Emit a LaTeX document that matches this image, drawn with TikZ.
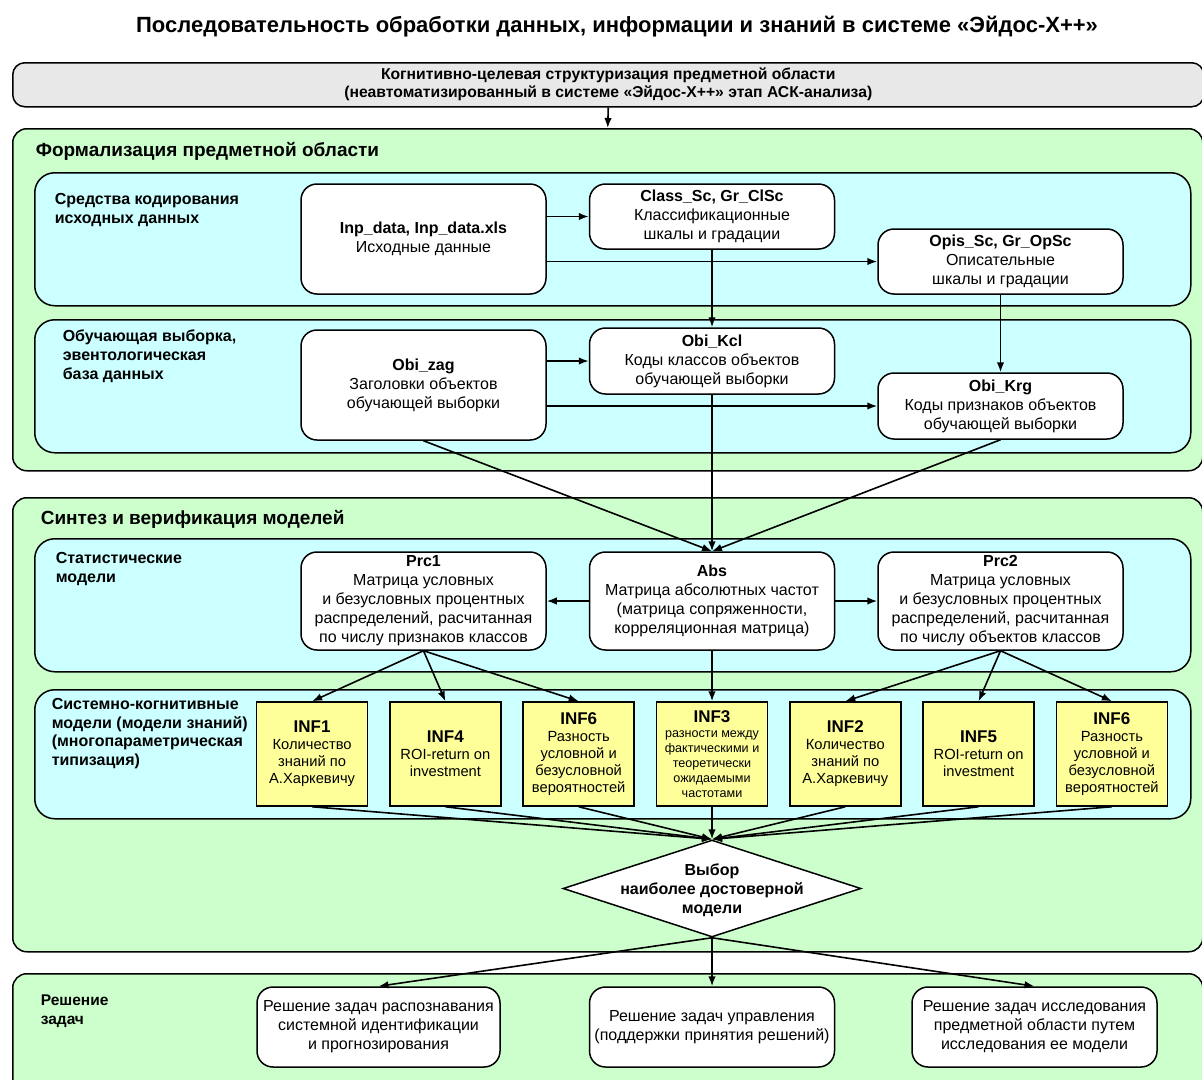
\documentclass[tikz,border=0pt]{standalone}
\usepackage{fontspec}
\setmainfont{Liberation Sans}
\usepackage{tikz}
\usetikzlibrary{arrows.meta}
\usetikzlibrary{shapes.geometric}
\definecolor{grn}{RGB}{204,255,204}
\definecolor{cyn}{RGB}{204,255,255}
\definecolor{yel}{RGB}{255,255,153}
\definecolor{gry}{RGB}{232,232,232}
\newcommand{\txt}{\fontsize{16}{19}\selectfont}
\newcommand{\inftxt}{\fontsize{14.7}{17}\selectfont}
\newcommand{\inftitle}[1]{{\bfseries\fontsize{17}{19}\selectfont #1}}
\tikzstyle{area} = [draw,line width=1.5pt,fill=grn,rounded corners=14pt,anchor=north west,inner sep=0pt,minimum width=1190pt]
\tikzstyle{sub} = [draw,line width=1.5pt,fill=cyn,rounded corners=20pt,anchor=north west,inner sep=0pt,minimum width=1156pt]
\tikzstyle{block} = [draw,line width=1.5pt,fill=white,rounded corners=16pt,minimum width=245pt,align=center,inner sep=3pt,font=\txt]
\tikzstyle{inf} = [draw,line width=1.5pt,fill=yel,minimum width=111pt,minimum height=104pt,align=center,inner sep=2pt,font=\inftxt]
\tikzstyle{sel} = [diamond,draw,line width=1.5pt,fill=white,minimum width=298pt,minimum height=97pt,inner sep=0pt]
\tikzstyle{lbl} = [anchor=west,align=left,inner sep=0pt,font=\bfseries\txt]
\tikzstyle{head} = [anchor=west,inner sep=0pt,font=\bfseries\fontsize{19}{22}\selectfont]

\begin{document}
\begin{tikzpicture}[>={Latex[length=10pt,width=7.5pt]},x=1pt,y=-1pt,line width=1.6pt]

    \useasboundingbox (0,0) rectangle (1202,1079);

% Title and the manual stage

    \node[font=\bfseries\fontsize{22}{26}\selectfont] at (617,27) (title) {Последовательность обработки данных, информации и знаний в системе «Эйдос-X++»};
    \node[area,fill=gry,rounded corners=12pt,minimum width=1191pt,minimum height=44pt,align=center,font=\bfseries\fontsize{15.7}{18}\selectfont] at (12,62) (kcs) {Когнитивно-целевая структуризация предметной области\\(неавтоматизированный в системе «Эйдос-X++» этап АСК-анализа)};

% Panels

    \node[area,minimum height=342pt] at (12,128) (formal) {};
    \node[sub,minimum height=133pt] at (34,172) (coding) {};
    \node[sub,minimum height=133pt] at (34,319) (train) {};
    \node[area,minimum height=454pt] at (12,497) (synth) {};
    \node[sub,minimum height=133pt] at (34,538) (stat) {};
    \node[sub,minimum height=129pt] at (34,689) (scm) {};
    \node[area,minimum height=130pt] at (12,973) (solve) {};

    \node[head] at (35,151) (hformal) {Формализация предметной области};
    \node[lbl] at (54,210) (lcoding) {Средства кодирования\\исходных данных};
    \node[lbl] at (62,356.5) (ltrain) {Обучающая выборка,\\эвентологическая\\база данных};
    \node[head] at (40,519) (hsynth) {Синтез и верификация моделей};
    \node[lbl] at (55,569) (lstat) {Статистические\\модели};
    \node[lbl,font=\bfseries\fontsize{16}{18.7}\selectfont] at (51,733.5) (lscm) {Системно-когнитивные\\модели (модели знаний)\\(многопараметрическая\\типизация)};
    \node[lbl,font=\bfseries\fontsize{15.5}{19}\selectfont] at (40,1011) (lsolve) {Решение\\задач};

% Draw blocks

    \node[block,minimum height=110pt] at (423.5,239) (inp) {\textbf{Inp\_data, Inp\_data.xls}\\Исходные данные};
    \node[block,minimum height=65pt] at (712,216.5) (class) {\textbf{Class\_Sc, Gr\_ClSc}\\Классификационные\\шкалы и градации};
    \node[block,minimum height=65pt] at (1000.5,261.5) (opis) {\textbf{Opis\_Sc, Gr\_OpSc}\\Описательные\\шкалы и градации};
    \node[block,minimum height=110pt] at (423.5,385) (zag) {\textbf{Obi\_zag}\\Заголовки объектов\\обучающей выборки};
    \node[block,minimum height=66pt] at (712,361) (kcl) {\textbf{Obi\_Kcl}\\Коды классов объектов\\обучающей выборки};
    \node[block,minimum height=66pt] at (1000.5,406) (krg) {\textbf{Obi\_Krg}\\Коды признаков объектов\\обучающей выборки};

    \node[block,minimum height=98pt] at (423.5,601) (prc1) {\textbf{Prc1}\\Матрица условных\\и безусловных процентных\\распределений, расчитанная\\по числу признаков классов};
    \node[block,minimum height=98pt] at (712,601) (abs) {\textbf{Abs}\\Матрица абсолютных частот\\(матрица сопряженности,\\корреляционная матрица)};
    \node[block,minimum height=98pt] at (1000.5,601) (prc2) {\textbf{Prc2}\\Матрица условных\\и безусловных процентных\\распределений, расчитанная\\по числу объектов классов};

    \def\gap{133.3}
    \node[inf] at (712-3*\gap,754) (inf1) {\inftitle{INF1}\\Количество\\знаний по\\А.Харкевичу};
    \node[inf] at (712-2*\gap,754) (inf4) {\inftitle{INF4}\\ROI-return on\\investment};
    \node[inf] at (712-1*\gap,754) (inf6a) {\inftitle{INF6}\\Разность\\условной и\\безусловной\\вероятностей};
    \node[inf,font=\fontsize{12.6}{15}\selectfont] at (712,754) (inf3) {\inftitle{INF3}\\разности между\\фактическими и\\теоретически\\ожидаемыми\\частотами};
    \node[inf] at (712+1*\gap,754) (inf2) {\inftitle{INF2}\\Количество\\знаний по\\А.Харкевичу};
    \node[inf] at (712+2*\gap,754) (inf5) {\inftitle{INF5}\\ROI-return on\\investment};
    \node[inf] at (712+3*\gap,754) (inf6b) {\inftitle{INF6}\\Разность\\условной и\\безусловной\\вероятностей};

    \node[sel] at (712,888.5) (choice) {};
    \node[align=center,font=\bfseries\txt] at (712,890) (choicetxt) {Выбор\\наиболее достоверной\\модели};

    \node[block,minimum width=243pt,minimum height=80pt] at (378.5,1027) (res1) {Решение задач распознавания\\системной идентификации\\и прогнозирования};
    \node[block,minimum height=80pt] at (712,1027) (res2) {Решение задач управления\\(поддержки принятия решений)};
    \node[block,minimum height=80pt] at (1034.5,1027) (res3) {Решение задач исследования\\предметной области путем\\исследования ее модели};

% Connectors

    \draw[->] (kcs.south) -- (formal.north);
    \draw[->] (inp.east |- class) -- (class.west);
    \draw[->] (inp.east |- opis) -- (opis.west);
    \draw[->] (class.south) -- (kcl.north);
    \draw[->] (opis.south) -- (krg.north);
    \draw[->] (zag.east |- kcl) -- (kcl.west);
    \draw[->] (zag.east |- krg) -- (krg.west);
    \draw[->] (zag.south) -- (abs.north);
    \draw[->] (kcl.south) -- (abs.north);
    \draw[->] (krg.south) -- (abs.north);
    \draw[->] (abs.west) -- (prc1.east);
    \draw[->] (abs.east) -- (prc2.west);

    \draw[->] (prc1.south) -- (inf1.north);
    \draw[->] (prc1.south) -- (inf4.north);
    \draw[->] (prc1.south) -- (inf6a.north);
    \draw[->] (abs.south) -- (inf3.north);
    \draw[->] (prc2.south) -- (inf2.north);
    \draw[->] (prc2.south) -- (inf5.north);
    \draw[->] (prc2.south) -- (inf6b.north);

    \draw[->] (inf1.south) -- (choice.north);
    \draw[->] (inf4.south) -- (choice.north);
    \draw[->] (inf6a.south) -- (choice.north);
    \draw[->] (inf3.south) -- (choice.north);
    \draw[->] (inf2.south) -- (choice.north);
    \draw[->] (inf5.south) -- (choice.north);
    \draw[->] (inf6b.south) -- (choice.north);

    \draw[->] (choice.south) -- (res1.north);
    \draw[->] (choice.south) -- (res2.north);
    \draw[->] (choice.south) -- (res3.north);

\end{tikzpicture}
\end{document}
